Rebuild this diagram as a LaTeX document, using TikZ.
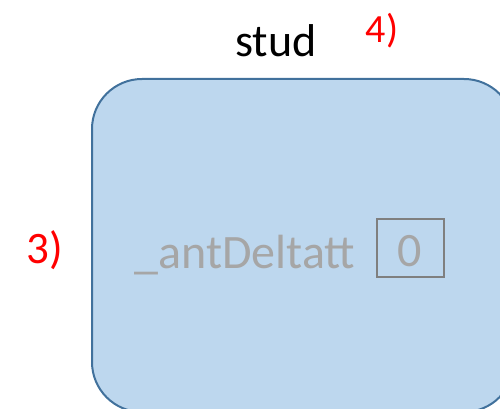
\documentclass[tikz,border=0pt]{standalone}
\usepackage{fontspec}
\setmainfont{Carlito}
\definecolor{boxfill}{HTML}{BDD7EE}
\definecolor{boxline}{HTML}{41719C}
\definecolor{txtgray}{HTML}{A6A6A6}
\definecolor{framegray}{HTML}{7F7F7F}
\begin{document}
\begin{tikzpicture}[x=1pt,y=-1pt,
  lbl/.style={inner sep=0pt,anchor=base},
  redlbl/.style={lbl,text=red},
  graylbl/.style={lbl,text=txtgray,font=\fontsize{48}{56}\selectfont}]
\useasboundingbox (0,0) rectangle (500,409);
\begin{scope}
\clip (0,0) rectangle (500,409);
\draw[boxline,fill=boxfill,line width=2pt,rounded corners=50pt] (92,79) rectangle (514,412);
\end{scope}
\node[lbl,font=\fontsize{46}{54}\selectfont] (stud) at (276,57) {stud};
\node[redlbl,font=\fontsize{40}{48}\selectfont] (four) at (382,43) {4)};
\node[redlbl,font=\fontsize{45}{52}\selectfont] (three) at (45,263) {3)};
\node[graylbl] (var) at (245,268) {\_antDeltatt};
\node[draw=framegray,line width=2pt,minimum width=67pt,minimum height=58pt,inner sep=0pt] (valbox) at (410,248) {};
\node[graylbl] (val) at (410,266) {0};
\end{tikzpicture}
\end{document}
